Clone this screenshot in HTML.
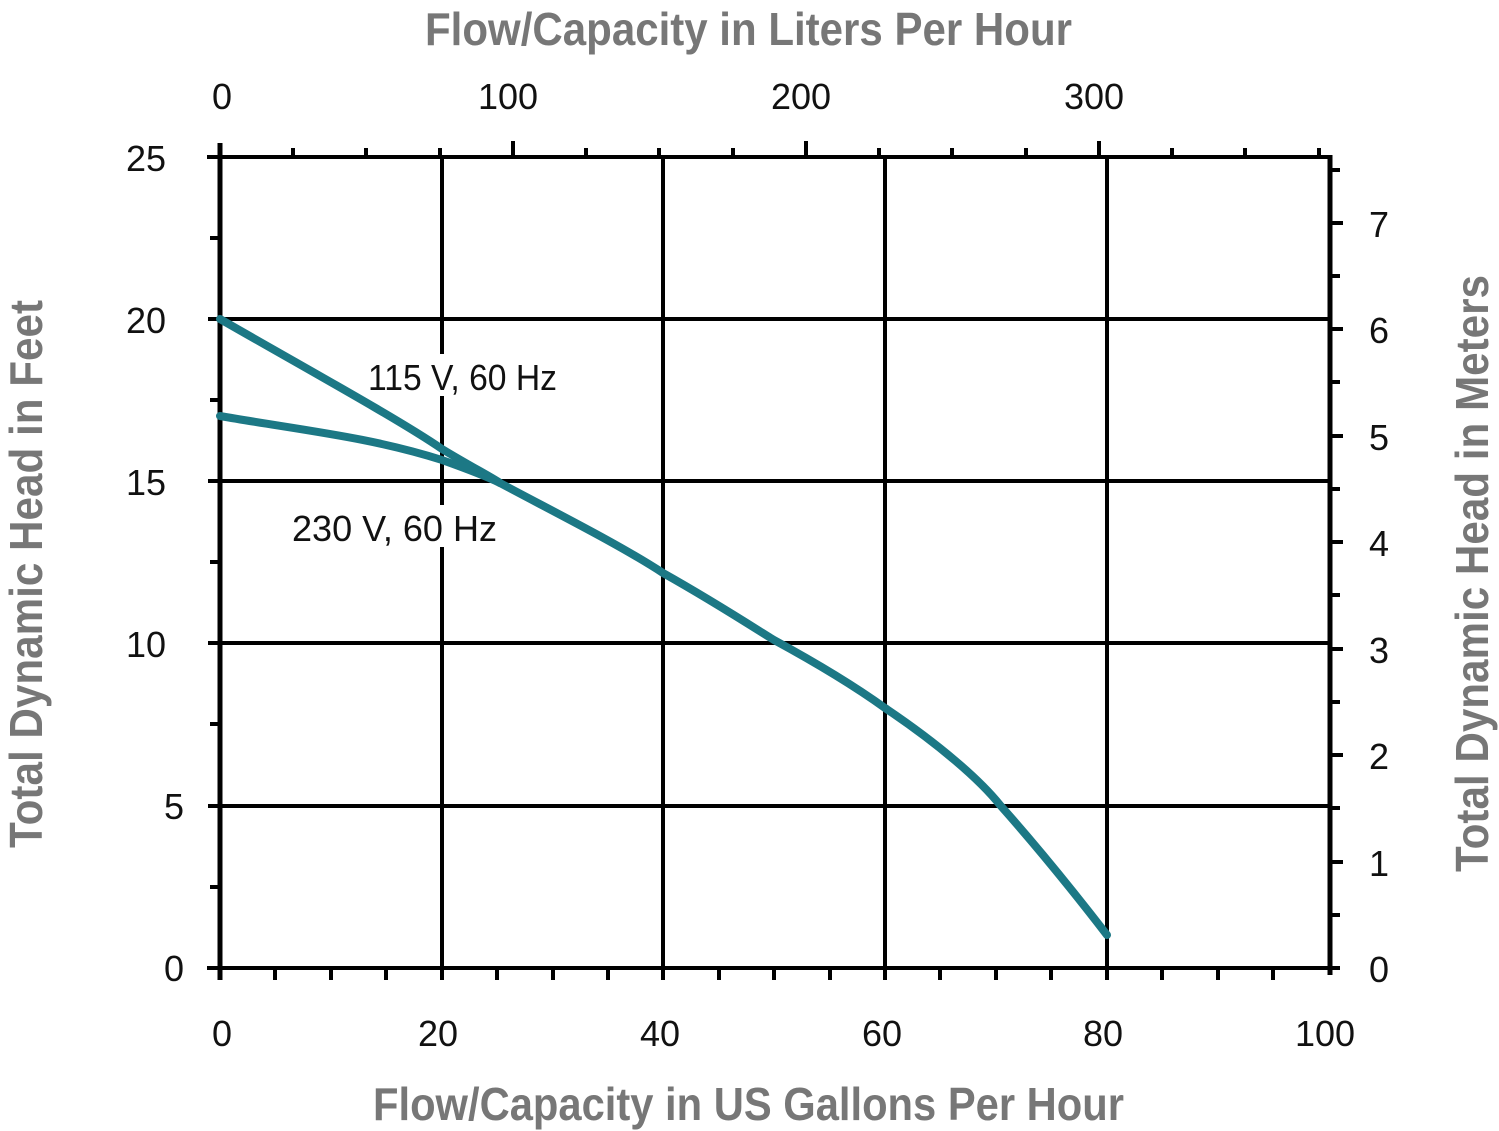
<!DOCTYPE html>
<html><head><meta charset="utf-8"><style>
html,body{margin:0;padding:0;background:#fff;}
svg{display:block;}
text{font-family:"Liberation Sans Narrow","Liberation Sans",sans-serif;}
</style></head><body>
<svg width="1499" height="1131" viewBox="0 0 1499 1131" xmlns="http://www.w3.org/2000/svg">
<g stroke="#000" stroke-width="4" fill="none">
<line x1="442" y1="157" x2="442" y2="968"/>
<line x1="663" y1="157" x2="663" y2="968"/>
<line x1="885" y1="157" x2="885" y2="968"/>
<line x1="1107" y1="157" x2="1107" y2="968"/>
<line x1="220" y1="806" x2="1330" y2="806"/>
<line x1="220" y1="643" x2="1330" y2="643"/>
<line x1="220" y1="481" x2="1330" y2="481"/>
<line x1="220" y1="319" x2="1330" y2="319"/>
<line x1="207" y1="157" x2="1330" y2="157"/>
<line x1="207" y1="968" x2="1340" y2="968"/>
<line x1="220" y1="143" x2="220" y2="980" stroke-width="5"/>
<line x1="1330" y1="155" x2="1330" y2="975" stroke-width="5"/>
</g>
<g stroke="#000" stroke-width="4">
<line x1="208" y1="806" x2="220" y2="806"/><line x1="208" y1="643" x2="220" y2="643"/>
<line x1="208" y1="481" x2="220" y2="481"/><line x1="208" y1="319" x2="220" y2="319"/>
<line x1="210" y1="887" x2="220" y2="887"/><line x1="210" y1="724" x2="220" y2="724"/>
<line x1="210" y1="562" x2="220" y2="562"/><line x1="210" y1="400" x2="220" y2="400"/>
<line x1="210" y1="238" x2="220" y2="238"/>
<line x1="275" y1="968" x2="275" y2="980"/><line x1="331" y1="968" x2="331" y2="980"/><line x1="386" y1="968" x2="386" y2="980"/><line x1="442" y1="968" x2="442" y2="980"/>
<line x1="497" y1="968" x2="497" y2="980"/><line x1="553" y1="968" x2="553" y2="980"/><line x1="608" y1="968" x2="608" y2="980"/><line x1="663" y1="968" x2="663" y2="980"/>
<line x1="719" y1="968" x2="719" y2="980"/><line x1="774" y1="968" x2="774" y2="980"/><line x1="830" y1="968" x2="830" y2="980"/><line x1="885" y1="968" x2="885" y2="980"/>
<line x1="940" y1="968" x2="940" y2="980"/><line x1="996" y1="968" x2="996" y2="980"/><line x1="1051" y1="968" x2="1051" y2="980"/><line x1="1107" y1="968" x2="1107" y2="980"/>
<line x1="1162" y1="968" x2="1162" y2="980"/><line x1="1218" y1="968" x2="1218" y2="980"/><line x1="1273" y1="968" x2="1273" y2="980"/>
<line x1="293" y1="148" x2="293" y2="157"/><line x1="366" y1="148" x2="366" y2="157"/><line x1="440" y1="148" x2="440" y2="157"/>
<line x1="513" y1="141" x2="513" y2="157"/>
<line x1="586" y1="148" x2="586" y2="157"/><line x1="659" y1="148" x2="659" y2="157"/><line x1="733" y1="148" x2="733" y2="157"/>
<line x1="806" y1="141" x2="806" y2="157"/>
<line x1="879" y1="148" x2="879" y2="157"/><line x1="952" y1="148" x2="952" y2="157"/><line x1="1026" y1="148" x2="1026" y2="157"/>
<line x1="1099" y1="141" x2="1099" y2="157"/>
<line x1="1172" y1="148" x2="1172" y2="157"/><line x1="1245" y1="148" x2="1245" y2="157"/><line x1="1319" y1="148" x2="1319" y2="157"/>
<line x1="1330" y1="915" x2="1340" y2="915"/><line x1="1330" y1="862" x2="1343" y2="862"/>
<line x1="1330" y1="808" x2="1340" y2="808"/><line x1="1330" y1="755" x2="1343" y2="755"/>
<line x1="1330" y1="702" x2="1340" y2="702"/><line x1="1330" y1="649" x2="1343" y2="649"/>
<line x1="1330" y1="595" x2="1340" y2="595"/><line x1="1330" y1="542" x2="1343" y2="542"/>
<line x1="1330" y1="489" x2="1340" y2="489"/><line x1="1330" y1="436" x2="1343" y2="436"/>
<line x1="1330" y1="382" x2="1340" y2="382"/><line x1="1330" y1="329" x2="1343" y2="329"/>
<line x1="1330" y1="276" x2="1340" y2="276"/><line x1="1330" y1="223" x2="1343" y2="223"/>
<line x1="1330" y1="170" x2="1340" y2="170"/>
</g>
<rect x="366" y="354" width="192" height="42" fill="#fff"/>
<rect x="290" y="505" width="210" height="42" fill="#fff"/>
<g stroke="#1c7885" stroke-width="8" fill="none" stroke-linecap="round" stroke-linejoin="round">
<path d="M220,319 C300,365 400,420 442,449 C470,466 495,479 500,483 C560,515 620,545 663,573 C720,605 770,638 774,640 C820,665 860,690 885,708 C940,745 980,780 1000,805 C1040,850 1080,900 1107,935"/>
<path d="M220,416 C300,430 370,437 442,460 C470,470 490,478 500,483"/>
</g>
<g font-size="36" fill="#111">
<text x="368" y="390" textLength="189" lengthAdjust="spacingAndGlyphs">115 V, 60 Hz</text>
<text x="292" y="541" textLength="205" lengthAdjust="spacingAndGlyphs">230 V, 60 Hz</text>
</g>
<g font-size="36" fill="#111" text-anchor="middle">
<text x="222" y="1046">0</text><text x="438" y="1046">20</text><text x="660" y="1046">40</text>
<text x="882" y="1046">60</text><text x="1103" y="1046">80</text><text x="1325" y="1046">100</text>
<text x="222" y="109">0</text><text x="508" y="109">100</text><text x="801" y="109">200</text><text x="1094" y="109">300</text>
</g>
<g font-size="36" fill="#111" text-anchor="end">
<text x="184" y="981">0</text><text x="184" y="819">5</text><text x="166" y="657">10</text>
<text x="166" y="495">15</text><text x="166" y="333">20</text><text x="166" y="171">25</text>
</g>
<g font-size="36" fill="#111">
<text x="1369" y="982">0</text><text x="1369" y="876">1</text><text x="1369" y="769">2</text><text x="1369" y="663">3</text>
<text x="1369" y="556">4</text><text x="1369" y="450">5</text><text x="1369" y="343">6</text><text x="1369" y="237">7</text>
</g>
<g font-size="46" fill="#777" font-weight="bold">
<text x="425" y="45" textLength="647" lengthAdjust="spacingAndGlyphs">Flow/Capacity in Liters Per Hour</text>
<text x="373" y="1120" textLength="751" lengthAdjust="spacingAndGlyphs">Flow/Capacity in US Gallons Per Hour</text>
<text transform="translate(42,848) rotate(-90)" textLength="548" lengthAdjust="spacingAndGlyphs">Total Dynamic Head in Feet</text>
<text transform="translate(1488,872) rotate(-90)" textLength="597" lengthAdjust="spacingAndGlyphs">Total Dynamic Head in Meters</text>
</g>
</svg>
</body></html>
